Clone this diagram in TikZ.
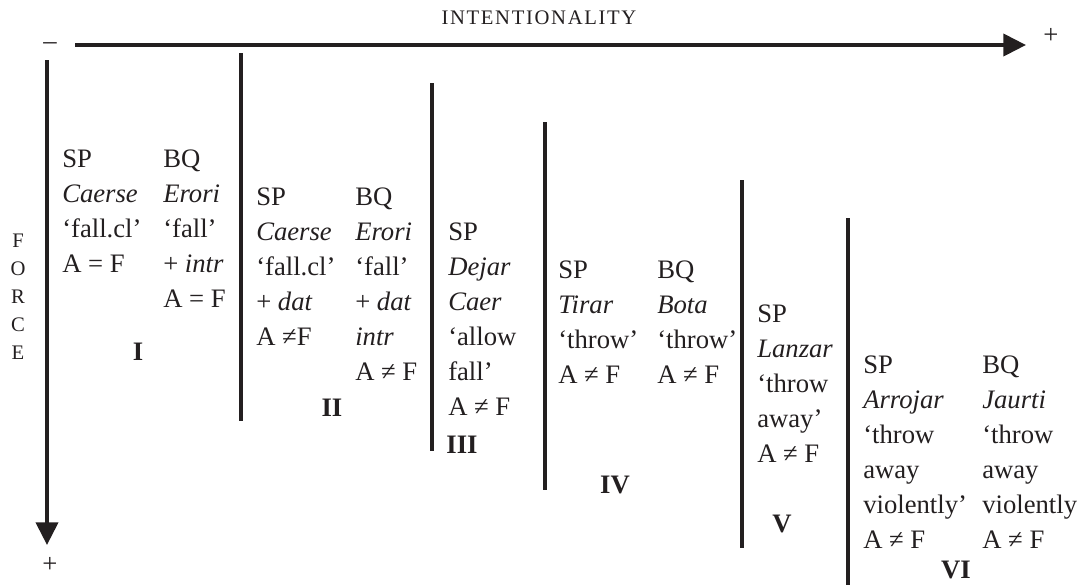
\documentclass[tikz,border=0pt]{standalone}
\usepackage{fontspec}
\setmainfont{Liberation Serif}
\usetikzlibrary{arrows.meta}
\definecolor{ink}{HTML}{231F20}
\begin{document}
\begin{tikzpicture}[x=0.75pt,y=-0.75pt,color=ink,
  axis/.style={line width=3pt,-{Triangle[length=17pt,width=16.5pt]}},
  divider/.style={line width=2.6pt},
  % multi-line entries are placed by the baseline of their last line
  entry/.style={anchor=base west,inner sep=0pt,align=left,
    font=\fontsize{20}{26.25}\selectfont},
  stage/.style={anchor=base,inner sep=0pt,font=\fontsize{20}{24}\selectfont\bfseries},
  sign/.style={inner sep=0pt,font=\fontsize{20}{24}\selectfont},
  axislabel/.style={inner sep=0pt,font=\fontsize{15.5}{21}\selectfont}]
\useasboundingbox (0,0) rectangle (1090,587);

% axes
\coordinate (hstart) at (75,45);
\coordinate (hend) at (1026,45);
\coordinate (vstart) at (47,60);
\coordinate (vend) at (47,545);
\draw[axis] (hstart) -- (hend);
\draw[axis] (vstart) -- (vend);
\node[sign] (hminus) at (50,46) {–};
\node[sign] (hplus) at (1051,36) {+};
\node[sign] (vplus) at (50,565) {+};
\node[axislabel,anchor=base] (intent) at (539,24)
  {\addfontfeature{LetterSpace=8}INTENTIONALITY};
\node[axislabel,anchor=base,align=center] (force) at (18,359)
  {F\\O\\R\\C\\E};

% stage dividers
\foreach \i/\x/\ya/\yb in {1/241/53/421, 2/432/83/451, 3/545/122/490, 4/742/180/548, 5/848/218/585} {
  \coordinate (d\i top) at (\x,\ya);
  \coordinate (d\i bot) at (\x,\yb);
  \draw[divider] (d\i top) -- (d\i bot);
}

% stage I
\node[entry] (sp1) at (62,272) {SP\\\textit{Caerse}\\‘fall.cl’\\A = F};
\node[entry] (bq1) at (163,307) {BQ\\\textit{Erori}\\‘fall’\\+ \textit{intr}\\A = F};
\node[stage] (s1) at (138,360) {I};

% stage II
\node[entry] (sp2) at (256,345) {SP\\\textit{Caerse}\\‘fall.cl’\\+ \textit{dat}\\A ≠F};
\node[entry] (bq2) at (355,380) {BQ\\\textit{Erori}\\‘fall’\\+ \textit{dat}\\\textit{intr}\\A ≠ F};
\node[stage] (s2) at (332,416) {II};

% stage III
\node[entry] (sp3) at (448,415) {SP\\\textit{Dejar}\\\textit{Caer}\\‘allow\\fall’\\A ≠ F};
\node[stage] (s3) at (462,453) {III};

% stage IV
\node[entry] (sp4) at (558,383) {SP\\\textit{Tirar}\\‘throw’\\A ≠ F};
\node[entry] (bq4) at (657,383) {BQ\\\textit{Bota}\\‘throw’\\A ≠ F};
\node[stage] (s4) at (615,493) {IV};

% stage V
\node[entry] (sp5) at (757,462) {SP\\\textit{Lanzar}\\‘throw\\away’\\A ≠ F};
\node[stage] (s5) at (782,532) {V};

% stage VI
\node[entry] (sp6) at (863,548) {SP\\\textit{Arrojar}\\‘throw\\away\\violently’\\A ≠ F};
\node[entry] (bq6) at (982,548) {BQ\\\textit{Jaurti}\\‘throw\\away\\violently\\A ≠ F};
\node[stage] (s6) at (956,578) {VI};
\end{tikzpicture}
\end{document}
